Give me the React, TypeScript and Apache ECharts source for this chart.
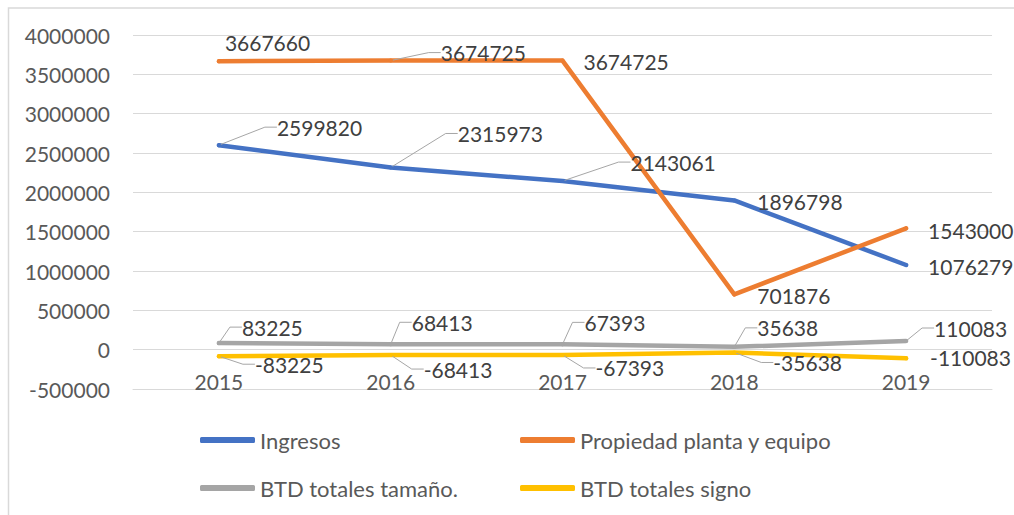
import React, { useEffect, useRef } from "react";
import * as echarts from "echarts";

const years = ["2015", "2016", "2017", "2018", "2019"];
const ingresos = [2599820, 2315973, 2143061, 1896798, 1076279];
const propiedad = [3667660, 3674725, 3674725, 701876, 1543000];
const btdTamano = [83225, 68413, 67393, 35638, 110083];
const btdSigno = [-83225, -68413, -67393, -35638, -110083];
const seriesNames = [
  "Ingresos",
  "Propiedad planta y equipo",
  "BTD totales tamaño.",
  "BTD totales signo",
];
const colors = ["#4472C4", "#ED7D31", "#A5A5A5", "#FFC000"];

// label placement (offsets from each point) and whether a leader line is drawn
const labelOffsets = [
  [[50, -18], [59, -34], [60, -19], [15, 1], [14, 2]],
  [[-2, -19], [42, -8], [13, 1], [15, 1], [14, 2]],
  [[15, -16], [13, -22], [14, -22], [15, -19], [20, -13]],
  [[28, 8], [25, 14], [25, 13], [31, 10], [16, -1]],
];
const leaderShown = [
  [true, true, true, false, false],
  [false, true, false, false, false],
  [true, true, true, true, true],
  [true, true, true, true, false],
];

const FONT = "Lato";

export default function App() {
  const ref = useRef<HTMLDivElement>(null);
  useEffect(() => {
    if (!ref.current) return;
    const chart = echarts.init(ref.current, undefined, { renderer: "svg" });
    const allSeries = [ingresos, propiedad, btdTamano, btdSigno];
    const legendRows = [
      { name: seriesNames[0], left: 200, top: 429 },
      { name: seriesNames[1], left: 520, top: 429 },
      { name: seriesNames[2], left: 200, top: 477 },
      { name: seriesNames[3], left: 520, top: 477 },
    ];
    chart.setOption({
      animation: false,
      graphic: [
        {
          type: "rect",
          shape: { x: 8.5, y: 8, width: 1040, height: 530 },
          style: { fill: "none", stroke: "#D9D9D9", lineWidth: 1.5 },
          silent: true,
        },
      ],
      grid: { left: 133, right: 22, top: 35, bottom: 126 },
      legend: legendRows.map((r) => ({
        data: [r.name],
        left: r.left,
        top: r.top,
        icon: "roundRect",
        itemWidth: 55,
        itemHeight: 6,
        padding: 0,
        textStyle: { fontSize: 22, color: "#595959", fontFamily: FONT },
        selectedMode: false,
      })),
      xAxis: {
        type: "category",
        data: years,
        boundaryGap: true,
        axisLine: { show: true, onZero: false, lineStyle: { color: "#D9D9D9" } },
        axisTick: { show: false },
        axisLabel: { margin: -18, fontSize: 21, color: "#595959", fontFamily: FONT },
        splitLine: { show: false },
      },
      yAxis: {
        type: "value",
        min: -500000,
        max: 4000000,
        interval: 500000,
        axisLine: { show: false },
        axisTick: { show: false },
        axisLabel: {
          margin: 23,
          fontSize: 21,
          color: "#595959",
          fontFamily: FONT,
          formatter: (v: number) => String(v),
        },
        splitLine: { lineStyle: { color: "#D9D9D9", width: 1 } },
      },
      series: allSeries.map((vals, si) => ({
        name: seriesNames[si],
        type: "line",
        data: vals.map((v, di) => ({
          value: v,
          labelLine: { show: leaderShown[si][di] },
        })),
        symbol: "circle",
        symbolSize: 4,
        showSymbol: true,
        itemStyle: { color: colors[si] },
        lineStyle: { width: 4.5, color: colors[si], cap: "round", join: "round" },
        emphasis: { disabled: true },
        label: {
          show: true,
          position: "right",
          distance: 0,
          padding: [0, 0, 0, 6],
          fontSize: 21,
          color: "#404040",
          fontFamily: FONT,
          align: "left",
          verticalAlign: "middle",
        },
        labelLine: {
          show: true,
          length2: 12,
          smooth: false,
          lineStyle: { color: "#A6A6A6", width: 1 },
        },
        labelLayout: (p: any) => ({
          dx: labelOffsets[si][p.dataIndex][0],
          dy: labelOffsets[si][p.dataIndex][1],
        }),
      })),
    });
    return () => chart.dispose();
  }, []);
  return (
    <div
      ref={ref}
      style={{ position: "absolute", left: 0, top: 0, width: 1014, height: 515 }}
    />
  );
}
